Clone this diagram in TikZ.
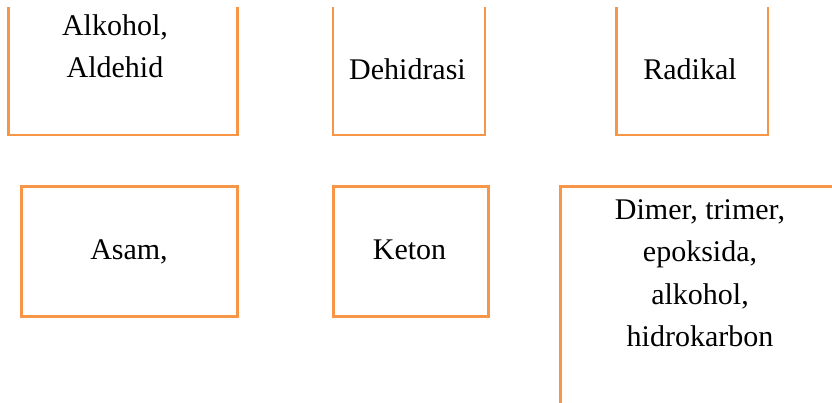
\documentclass[tikz,border=0pt]{standalone}
\usepackage{fontspec}
\setmainfont{Liberation Serif}
\usepackage{tikz}

\definecolor{boxorange}{HTML}{F79646}

\begin{document}
\begin{tikzpicture}[x=1pt,y=-1pt,
    edge/.style={draw=boxorange,line width=2.8pt},
    lbl/.style={anchor=base,align=center,inner sep=0pt,font=\fontsize{30}{42.5}\selectfont}]
    \useasboundingbox (0,0) rectangle (832,403);

    % top row, cut at the top
    \draw[edge] (8.7,7) -- (8.7,135) -- (237.3,135) -- (237.3,7);
    \draw[edge] (333,7) -- (333,135) -- (485,135) -- (485,7);
    \draw[edge] (616.7,7) -- (616.7,135) -- (768,135) -- (768,7);

    % bottom row
    \draw[edge] (21.3,186.3) rectangle (237.3,316.3);
    \draw[edge] (333.3,186.3) rectangle (488.7,316.3);
    \draw[edge] (560.7,403) -- (560.7,186.3) -- (832,186.3);

    % base of a multi-line node is its last line
    \node[lbl] (alkohol) at (115,78) {Alkohol,\\Aldehid};
    \node[lbl] (dehidrasi) at (407.5,80) {Dehidrasi};
    \node[lbl] (radikal) at (690,80) {Radikal};
    \node[lbl] (asam) at (129,260) {Asam,};
    \node[lbl] (keton) at (409.5,260) {Keton};
    \node[lbl] (dimer) at (700,346.5) {Dimer, trimer,\\epoksida,\\alkohol,\\hidrokarbon};
\end{tikzpicture}
\end{document}
